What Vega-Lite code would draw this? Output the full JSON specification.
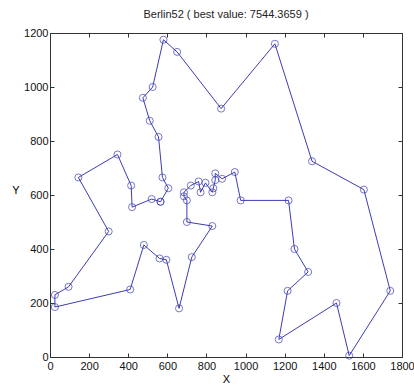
{
  "$schema": "https://vega.github.io/schema/vega-lite/v6.json",
  "width": 352,
  "height": 324,
  "autosize": {"type": "none"},
  "padding": {"left": 50, "top": 33, "right": 12, "bottom": 30},
  "background": "white",
  "title": {"text": "Berlin52 ( best value:   7544.3659 )", "font": "Liberation Sans", "fontSize": 11, "fontWeight": "normal", "color": "#222", "offset": 7},
  "config": {"view": {"stroke": "#333", "strokeWidth": 1}},
  "data": {"values": [
    {"i":0,"x":565,"y":575},{"i":1,"x":605,"y":625},{"i":2,"x":575,"y":665},{"i":3,"x":555,"y":815},
    {"i":4,"x":510,"y":875},{"i":5,"x":475,"y":960},{"i":6,"x":525,"y":1000},{"i":7,"x":580,"y":1175},
    {"i":8,"x":650,"y":1130},{"i":9,"x":875,"y":920},{"i":10,"x":1150,"y":1160},{"i":11,"x":1340,"y":725},
    {"i":12,"x":1605,"y":620},{"i":13,"x":1740,"y":245},{"i":14,"x":1530,"y":5},{"i":15,"x":1465,"y":200},
    {"i":16,"x":1170,"y":65},{"i":17,"x":1215,"y":245},{"i":18,"x":1320,"y":315},{"i":19,"x":1250,"y":400},
    {"i":20,"x":1220,"y":580},{"i":21,"x":975,"y":580},{"i":22,"x":945,"y":685},{"i":23,"x":880,"y":660},
    {"i":24,"x":845,"y":680},{"i":25,"x":845,"y":655},{"i":26,"x":835,"y":625},{"i":27,"x":830,"y":610},
    {"i":28,"x":795,"y":645},{"i":29,"x":770,"y":610},{"i":30,"x":760,"y":650},{"i":31,"x":720,"y":635},
    {"i":32,"x":685,"y":610},{"i":33,"x":685,"y":595},{"i":34,"x":700,"y":580},{"i":35,"x":700,"y":500},
    {"i":36,"x":830,"y":485},{"i":37,"x":725,"y":370},{"i":38,"x":660,"y":180},{"i":39,"x":595,"y":360},
    {"i":40,"x":560,"y":365},{"i":41,"x":480,"y":415},{"i":42,"x":410,"y":250},{"i":43,"x":25,"y":185},
    {"i":44,"x":25,"y":230},{"i":45,"x":95,"y":260},{"i":46,"x":300,"y":465},{"i":47,"x":145,"y":665},
    {"i":48,"x":345,"y":750},{"i":49,"x":415,"y":635},{"i":50,"x":420,"y":555},{"i":51,"x":520,"y":585},
    {"i":52,"x":565,"y":575}
  ]},
  "layer": [
    {
      "mark": {"type": "line", "color": "#3c3cb4", "strokeWidth": 1},
      "encoding": {
        "x": {"field": "x", "type": "quantitative", "scale": {"domain": [0, 1800], "nice": false},
              "axis": {"orient": "bottom", "title": "X", "format": "d", "values": [0,200,400,600,800,1000,1200,1400,1600,1800], "tickSize": -4, "grid": false, "domain": false, "labelFont": "Liberation Sans", "labelFontSize": 11, "labelColor": "#111", "labelPadding": 7, "titleFont": "Liberation Sans", "titleFontSize": 11, "titleFontWeight": "normal", "titlePadding": 2, "tickColor": "#333", "labelFlush": false}},
        "y": {"field": "y", "type": "quantitative", "scale": {"domain": [0, 1200], "nice": false},
              "axis": {"orient": "left", "title": "Y", "format": "d", "titleAngle": 0, "values": [0,200,400,600,800,1000,1200], "tickSize": -4, "grid": false, "domain": false, "labelFont": "Liberation Sans", "labelFontSize": 11, "labelColor": "#111", "labelPadding": 6, "titleFont": "Liberation Sans", "titleFontSize": 11, "titleFontWeight": "normal", "titlePadding": 8, "tickColor": "#333"}},
        "order": {"field": "i", "type": "quantitative"}
      }
    },
    {
      "mark": {"type": "point", "shape": "circle", "filled": false, "color": "#3c3cb4", "size": 50, "strokeWidth": 1},
      "encoding": {
        "x": {"field": "x", "type": "quantitative", "axis": {"orient": "top", "title": null, "labels": false, "values": [0,200,400,600,800,1000,1200,1400,1600,1800], "tickSize": -4, "grid": false, "domain": false, "tickColor": "#333"}},
        "y": {"field": "y", "type": "quantitative", "axis": {"orient": "right", "title": null, "labels": false, "values": [0,200,400,600,800,1000,1200], "tickSize": -4, "grid": false, "domain": false, "tickColor": "#333"}}
      }
    }
  ],
  "resolve": {"axis": {"x": "independent", "y": "independent"}}
}
